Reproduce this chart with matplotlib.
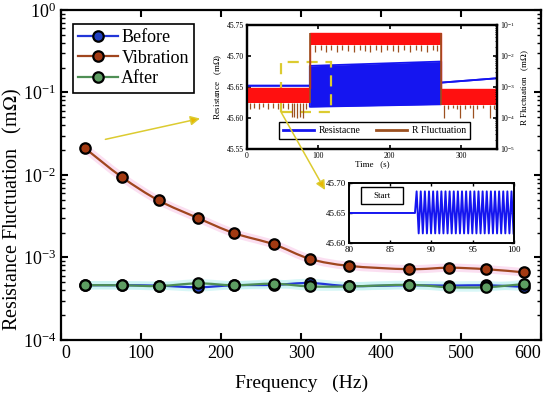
import numpy as np
import matplotlib
matplotlib.use("Agg")
import matplotlib.pyplot as plt
from matplotlib.path import Path
from matplotlib.patches import PathPatch, Rectangle, ConnectionPatch
from matplotlib.lines import Line2D

# main plot data
freq = [30, 76, 122, 171, 216, 266, 311, 360, 435, 485, 531, 578]
before = [4.6e-4, 4.6e-4, 4.55e-4, 4.35e-4, 4.6e-4, 4.65e-4, 4.9e-4, 4.5e-4, 4.6e-4, 4.55e-4, 4.6e-4, 4.4e-4]
vibration = [2.1e-2, 9.4e-3, 4.9e-3, 3.0e-3, 1.97e-3, 1.44e-3, 9.6e-4, 7.9e-4, 7.2e-4, 7.5e-4, 7.2e-4, 6.6e-4]
after = [4.6e-4, 4.6e-4, 4.5e-4, 4.85e-4, 4.6e-4, 4.8e-4, 4.45e-4, 4.45e-4, 4.65e-4, 4.35e-4, 4.35e-4, 4.75e-4]

# inset 1: resistance band edges vs time (s)
res_t = [0, 88, 88, 272, 272, 350]
res_hi = [45.652, 45.652, 45.684, 45.691, 45.657, 45.664]
res_lo = [45.652, 45.652, 45.618, 45.622, 45.657, 45.664]

# inset 1: R fluctuation band edges (right log axis)
fluc_t = [0, 88, 88, 272, 272, 350]
fluc_hi = [9e-4, 9e-4, 5.6e-2, 5.6e-2, 8.5e-4, 8.5e-4]
fluc_lo = [3e-4, 3e-4, 2.2e-2, 2.2e-2, 2.6e-4, 2.6e-4]

# downward dips of the fluctuation trace
dips_pre_t = [4, 10, 17, 23, 30, 36, 44, 50, 57, 63, 66, 70, 74, 78, 83]
dips_pre_v = [2e-4, 2.1e-4, 2e-4, 2.2e-4, 2e-4, 2.1e-4, 2e-4, 2.1e-4, 2e-4, 1.1e-4, 1.1e-4, 1e-4, 1.1e-4, 1e-4, 2e-4]
dips_vib_t = [95, 103, 110, 118, 126, 133, 141, 150, 158, 165, 172, 180, 188, 196, 204, 212, 220, 228, 236, 244, 252, 260, 266]
dips_vib_v = [1.3e-2, 1.5e-2, 1.3e-2, 1.6e-2, 1.3e-2, 1.5e-2, 1.4e-2, 1.3e-2, 1.6e-2, 1.4e-2, 1.3e-2, 1.5e-2,
              1.3e-2, 1.6e-2, 1.4e-2, 1.3e-2, 1.5e-2, 1.3e-2, 1.6e-2, 1.4e-2, 1.3e-2, 1.5e-2, 1.4e-2]
dips_post_t = [276, 281, 288, 294, 298, 305, 312, 316, 322, 330, 340, 346]
dips_post_v = [1e-4, 2e-4, 2.1e-4, 2e-4, 1e-4, 2e-4, 2.1e-4, 1e-4, 2e-4, 2.1e-4, 1e-4, 2e-4]

# inset 2: zoom on the start of vibration
zoom_base = 45.650
zoom_peak = 45.686
zoom_trough = 45.616
zoom_start = 88.0
zoom_peaks = [88.2, 88.7, 89.2, 89.7, 90.2, 90.7, 91.2, 91.7, 92.2, 92.7, 93.2, 93.7,
              94.2, 94.7, 95.2, 95.7, 96.2, 96.7, 97.2, 97.7, 98.2, 98.7, 99.2, 99.7]

plt.rcParams["font.family"] = "Liberation Serif"
plt.rcParams["mathtext.fontset"] = "stix"

blue = "#1515f0"
red = "#ff1010"
brown = "#9c5020"
yellow = "#dccb30"


def spline_path(xs, ys):
    # smooth curve through the points, built in (x, log y)
    px = np.array(xs, float)
    py = np.log10(ys)
    n = len(px)
    verts = [(px[0], py[0])]
    codes = [Path.MOVETO]
    for i in range(n - 1):
        i0 = max(i - 1, 0)
        i3 = min(i + 2, n - 1)
        c1 = (px[i] + (px[i + 1] - px[i0]) / 6, py[i] + (py[i + 1] - py[i0]) / 6)
        c2 = (px[i + 1] - (px[i3] - px[i]) / 6, py[i + 1] - (py[i3] - py[i]) / 6)
        verts += [c1, c2, (px[i + 1], py[i + 1])]
        codes += [Path.CURVE4] * 3
    verts = [(vx, 10 ** vy) for vx, vy in verts]
    return Path(verts, codes)


fig = plt.figure(figsize=(5.5, 3.93), dpi=100)
ax = fig.add_axes([0.111, 0.135, 0.873, 0.840])

series = [
    ("Before", before, "#2236d8", "#2040c0", "#c8f4f4"),
    ("Vibration", vibration, "#a0461e", "#a33a12", "#fad2ec"),
    ("After", after, "#4f8f55", "#5d9e62", "#c8f4f4"),
]
for name, vals, lc, fc, halo in series:
    ax.add_patch(PathPatch(spline_path(freq, vals), facecolor="none", edgecolor=halo,
                           lw=6, alpha=0.7, zorder=1))
for name, vals, lc, fc, halo in series:
    ax.add_patch(PathPatch(spline_path(freq, vals), facecolor="none", edgecolor=lc, lw=1.6, zorder=2))
    ax.plot(freq, vals, ls="none", marker="o", ms=7.5, mfc=fc, mec="black", mew=1.6, zorder=3)

ax.set_yscale("log")
ax.set_xlim(0, 600)
ax.set_ylim(1e-4, 1)
ax.set_xticks([0, 100, 200, 300, 400, 500, 600])
xl = ax.get_xticklabels()
xl[0].set_horizontalalignment("left")
xl[-1].set_horizontalalignment("right")
ax.tick_params(which="both", direction="in", top=True, right=True, labelsize=13)
ax.tick_params(which="major", length=5, width=1.5)
ax.tick_params(which="minor", length=3, width=1)
for s in ax.spines.values():
    s.set_linewidth(1.6)
ax.set_xlabel("Frequency   (Hz)", fontsize=14, labelpad=9)
ax.set_ylabel("Resistance Fluctuation   (m$\\Omega$)", fontsize=14.5)
ax.yaxis.set_label_coords(-0.078, 0.394)

handles = [Line2D([], [], color=lc, lw=1.6, marker="o", ms=7.5, mfc=fc, mec="black", mew=1.6)
           for name, vals, lc, fc, halo in series]
leg = ax.legend(handles, [s[0] for s in series], loc="upper left", bbox_to_anchor=(0.024, 0.958),
                borderaxespad=0, fontsize=13, fancybox=False, framealpha=1, edgecolor="black",
                handlelength=2.2, handletextpad=0.2, labelspacing=0.2, borderpad=0.3)
leg.get_frame().set_linewidth(1.2)

# inset 1
ax1 = fig.add_axes([0.449, 0.621, 0.4545, 0.3155])
ax1.fill_between(res_t, res_lo, res_hi, color=blue, lw=0)
ax1.plot(res_t, res_hi, color=blue, lw=1.3)
ax1.plot(res_t, res_lo, color=blue, lw=1.3)
ax1.set_xlim(0, 350)
ax1.set_ylim(45.55, 45.75)
ax1.set_xticks([0, 100, 200, 300])
ax1.set_yticks([45.55, 45.60, 45.65, 45.70, 45.75])
ax1.yaxis.set_major_formatter(plt.FormatStrFormatter("%.2f"))
ax1.tick_params(direction="in", top=True, labelsize=5.5, length=3, width=1.2, pad=2)
ax1.set_xlabel("Time   (s)", fontsize=6.5, labelpad=0)
ax1.set_ylabel("Resistance   (m$\\Omega$)", fontsize=6.5, labelpad=2)
ax1.add_patch(Rectangle((47.5, 45.61), 69.5, 0.08, fill=False, ec=yellow, lw=1.6,
                        ls=(0, (5, 3.5)), zorder=5))

ax1r = ax1.twinx()
ax1r.fill_between(fluc_t, fluc_lo, fluc_hi, color=red, lw=0)
ax1r.plot(fluc_t, fluc_hi, color=red, lw=1)
ax1r.vlines([88, 272], [3e-4, 2.6e-4], [5.6e-2, 5.6e-2], color=brown, lw=1.2)
ax1r.vlines(dips_pre_t, dips_pre_v, fluc_lo[0], color=brown, lw=0.9)
ax1r.vlines(dips_vib_t, dips_vib_v, fluc_lo[2], color=brown, lw=0.9)
ax1r.vlines(dips_post_t, dips_post_v, fluc_lo[4], color=brown, lw=0.9)
ax1r.set_yscale("log")
ax1r.set_ylim(1e-5, 1e-1)
ax1r.tick_params(which="both", direction="in", labelsize=5.5, pad=2)
ax1r.tick_params(which="major", length=3, width=1.2)
ax1r.tick_params(which="minor", length=1.5, width=0.6)
ax1r.set_ylabel("R Fluctuation   (m$\\Omega$)", fontsize=6.5, labelpad=3)
for a in (ax1, ax1r):
    for s in a.spines.values():
        s.set_linewidth(1.6)

leg1 = ax1r.legend([Line2D([], [], color=blue, lw=2), Line2D([], [], color=brown, lw=2)],
                   ["Resistacne", "R Fluctuation"], ncol=2, loc="lower center",
                   bbox_to_anchor=(0.51, 0.08), borderaxespad=0, fontsize=7, fancybox=False,
                   framealpha=1, edgecolor="black", handlelength=3.2, columnspacing=1.6,
                   handletextpad=0.5, borderpad=0.4)
leg1.get_frame().set_linewidth(1)

# inset 2
zx = [80, zoom_start]
zy = [zoom_base, zoom_base]
for p in zoom_peaks:
    zx += [p, p + 0.25]
    zy += [zoom_peak, zoom_trough]
ax2 = fig.add_axes([0.6345, 0.3817, 0.30, 0.1527])
ax2.plot(zx, zy, color=blue, lw=1.4)
ax2.set_xlim(80, 100)
ax2.set_ylim(45.60, 45.70)
ax2.set_xticks([80, 85, 90, 95, 100])
ax2.set_yticks([45.60, 45.65, 45.70])
ax2.yaxis.set_major_formatter(plt.FormatStrFormatter("%.2f"))
ax2.tick_params(direction="in", top=True, right=True, labelsize=6.5, length=2.5, width=1, pad=2)
for s in ax2.spines.values():
    s.set_linewidth(1.4)
ax2.add_patch(Rectangle((81.4, 45.665), 5.1, 0.028, fill=False, ec="black", lw=1))
ax2.text(83.95, 45.679, "Start", fontsize=6.5, ha="center", va="center")

# yellow arrows
ax.annotate("", xy=(177, 0.049), xytext=(52, 0.0265),
            arrowprops=dict(arrowstyle="-|>", color=yellow, fc="#e8b800", lw=1.1, mutation_scale=14))
con = ConnectionPatch(xyA=(47.5, 45.61), coordsA=ax1.transData,
                      xyB=(-0.145, 0.883), coordsB=ax2.transAxes,
                      arrowstyle="-|>", color=yellow, fc="#e8b800", lw=1.1, mutation_scale=14)
fig.add_artist(con)

fig.savefig("out.png", dpi=100)
